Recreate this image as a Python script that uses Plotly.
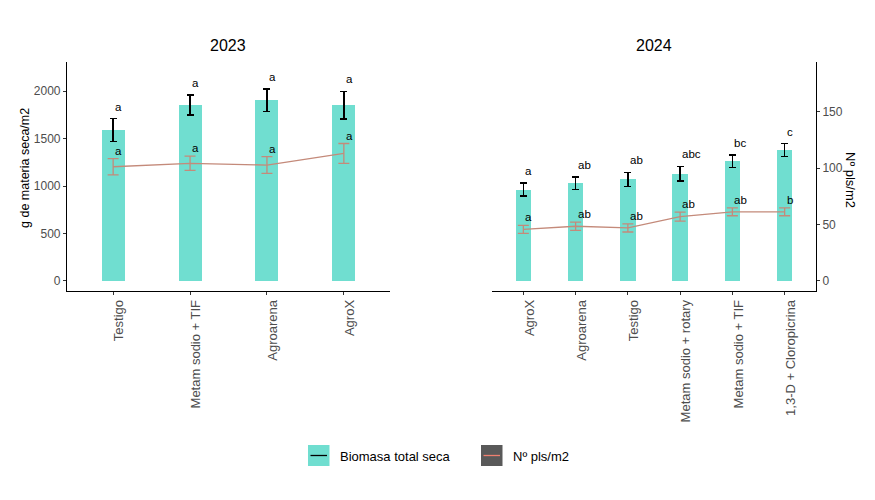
import plotly.graph_objects as go

# ---- data (values as displayed) ----
cats_2023 = ["Testigo", "Metam sodio + TIF", "Agroarena", "AgroX"]
biomasa_2023 = [1590, 1855, 1905, 1853]
biomasa_2023_err = [120, 105, 120, 145]
biomasa_2023_letras = ["a", "a", "a", "a"]
plantas_2023 = [1204, 1240, 1222, 1344]
plantas_2023_err = [85, 75, 88, 105]
plantas_2023_letras = ["a", "a", "a", "a"]

cats_2024 = ["AgroX", "Agroarena", "Testigo", "Metam sodio + rotary",
             "Metam sodio + TIF", "1,3-D + Cloropicrina"]
biomasa_2024 = [81, 86.5, 90, 95, 106, 116]
biomasa_2024_err = [5.7, 5.7, 6.3, 6.5, 5.7, 5.8]
biomasa_2024_letras = ["a", "ab", "ab", "abc", "bc", "c"]
plantas_2024 = [45.7, 48.5, 47, 57, 61.3, 61.3]
plantas_2024_err = [3.5, 3.6, 3.6, 4, 3.5, 3.5]
plantas_2024_letras = ["a", "ab", "ab", "ab", "ab", "b"]

y_ticks_2023 = [0, 500, 1000, 1500, 2000]
y_ticks_2024 = [0, 50, 100, 150]

# ---- style ----
W, H = 875, 500
TEAL = "#70DED0"
LINE = "#C48A7A"
FONT = "Liberation Sans, Arial, sans-serif"
GREY = "#4D4D4D"

def px(x):
    return x / W

def py(y):
    return 1 - y / H

fig = go.Figure()

panels = [
    (cats_2023, biomasa_2023, biomasa_2023_err, biomasa_2023_letras,
     plantas_2023, plantas_2023_err, plantas_2023_letras, "x", "y"),
    (cats_2024, biomasa_2024, biomasa_2024_err, biomasa_2024_letras,
     plantas_2024, plantas_2024_err, plantas_2024_letras, "x2", "y2"),
]

annotations = []
for cats, bv, be, bl, pv, pe, pl, xa, ya in panels:
    fig.add_trace(go.Bar(
        x=cats, y=bv, width=0.3, marker=dict(color=TEAL, line=dict(width=0)),
        error_y=dict(type="data", array=be, color="black", thickness=1.4, width=3.5),
        xaxis=xa, yaxis=ya, showlegend=False, hoverinfo="skip"))
    fig.add_trace(go.Scatter(
        x=cats, y=pv, mode="lines", line=dict(color=LINE, width=1.3),
        error_y=dict(type="data", array=pe, color=LINE, thickness=1.3, width=5.5),
        xaxis=xa, yaxis=ya, showlegend=False, hoverinfo="skip"))
    for c, v, e, t in zip(cats, bv, be, bl):
        annotations.append(dict(x=c, y=v + e, xref=xa, yref=ya, text=t,
                                showarrow=False, xanchor="left", yanchor="middle",
                                yshift=12, xshift=0,
                                font=dict(family=FONT, size=11.5, color="black")))
    for c, v, e, t in zip(cats, pv, pe, pl):
        annotations.append(dict(x=c, y=v + e, xref=xa, yref=ya, text=t,
                                showarrow=False, xanchor="left", yanchor="middle",
                                yshift=8, xshift=0,
                                font=dict(family=FONT, size=11.5, color="black")))

# titles
annotations.append(dict(x=px(228.5), y=py(46), xref="paper", yref="paper", text="2023",
                        showarrow=False, xanchor="center", yanchor="middle",
                        font=dict(family=FONT, size=16, color="black")))
annotations.append(dict(x=px(654), y=py(46), xref="paper", yref="paper", text="2024",
                        showarrow=False, xanchor="center", yanchor="middle",
                        font=dict(family=FONT, size=16, color="black")))
# axis titles
annotations.append(dict(x=px(25), y=py(168), xref="paper", yref="paper",
                        text="g de materia seca/m2", textangle=-90,
                        showarrow=False, xanchor="center", yanchor="middle",
                        font=dict(family=FONT, size=12.5, color="black")))
annotations.append(dict(x=px(851), y=py(180), xref="paper", yref="paper",
                        text="Nº pls/m2", textangle=90,
                        showarrow=False, xanchor="center", yanchor="middle",
                        font=dict(family=FONT, size=13, color="black")))

# legend (manual)
shapes = []
legend_items = [
    (308, TEAL, "black", "Biomasa total seca"),
    (481, "#595959", "#EE8070", "Nº pls/m2"),
]
for x0, fill, lc, label in legend_items:
    shapes.append(dict(type="rect", xref="paper", yref="paper",
                       x0=px(x0), x1=px(x0 + 21.5), y0=py(466), y1=py(445),
                       fillcolor=fill, line=dict(width=0)))
    shapes.append(dict(type="line", xref="paper", yref="paper",
                       x0=px(x0 + 2.5), x1=px(x0 + 19), y0=py(455.5), y1=py(455.5),
                       line=dict(color=lc, width=1.3)))
    annotations.append(dict(x=px(x0 + 30), y=py(456), xref="paper", yref="paper",
                            text=label, showarrow=False, xanchor="left", yanchor="middle",
                            font=dict(family=FONT, size=13, color="black")))

dom_y = [py(290.7), py(62)]
common_x = dict(showline=True, linecolor="black", linewidth=1.1, ticks="outside",
                ticklen=3, tickcolor="#333333", tickangle=-90,
                tickfont=dict(family=FONT, size=13, color=GREY),
                showgrid=False, zeroline=False, fixedrange=True)
common_y = dict(showline=True, linecolor="black", linewidth=1.1, ticks="outside",
                ticklen=3, tickcolor="#333333",
                tickfont=dict(family=FONT, size=12, color=GREY),
                showgrid=False, zeroline=False, fixedrange=True)

fig.update_layout(
    width=W, height=H, margin=dict(l=0, r=0, t=0, b=0),
    paper_bgcolor="white", plot_bgcolor="white",
    showlegend=False, bargap=0,
    font=dict(family=FONT),
    xaxis=dict(domain=[px(67), px(390)], anchor="y", range=[-0.6, 3.6],
               categoryorder="array", categoryarray=cats_2023, **common_x),
    yaxis=dict(domain=dom_y, anchor="x", range=[-102.5, 2308],
               tickvals=y_ticks_2023, **common_y),
    xaxis2=dict(domain=[px(492), px(816)], anchor="y2", range=[-0.6, 5.6],
                categoryorder="array", categoryarray=cats_2024, **common_x),
    yaxis2=dict(domain=dom_y, anchor="x2", side="right", range=[-8.6, 194],
                tickvals=y_ticks_2024, **common_y),
    annotations=annotations, shapes=shapes,
)
try:
    fig.update_xaxes(ticklabelshift=6)
except Exception:
    pass

fig.write_html("out.html", config={"displayModeBar": False},
               post_script="document.body.style.margin='0';")
